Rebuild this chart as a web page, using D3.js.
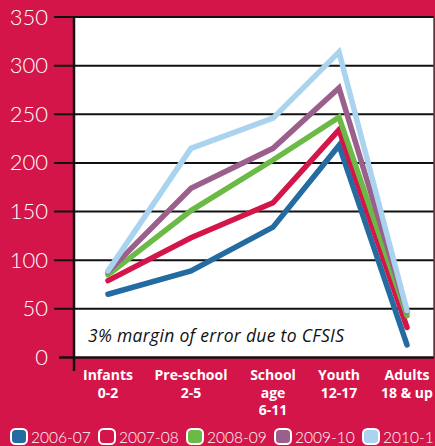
<!DOCTYPE html>
<html><head><meta charset="utf-8">
<script src="https://cdn.jsdelivr.net/npm/d3@7"></script>
<style>body{margin:0;background:#D4154A;}svg{display:block;}</style>
</head><body>
<script>
const categories = [["Infants","0-2"],["Pre-school","2-5"],["School","age","6-11"],["Youth","12-17"],["Adults","18 & up"]];
const seriesNames = ["2006-07","2007-08","2008-09","2009-10","2010-11"];
const s0607 = [65, 89, 134, 218, 13];
const s0708 = [79, 123, 159, 234, 31];
const s0809 = [85, 151, 203, 247, 43];
const s0910 = [88, 174, 215, 277, 47];
const s1011 = [89, 215, 246, 314, 48];
const yTicks = [0,50,100,150,200,250,300,350];
const note = "3% margin of error due to CFSIS";

const colors = ["#236BA0","#D4154A","#6BBA45","#9B5F8C","#A9D3EE"];
const series = [s0607,s0708,s0809,s0910,s1011];
const W=435,H=446;
const svg=d3.select("body").append("svg").attr("width",W).attr("height",H);
svg.append("rect").attr("width",W).attr("height",H).attr("fill","#D4154A");
const L=74,R=434,T=17,B=357.5;
const y=d3.scaleLinear().domain([0,350]).range([B,T]);
const x=d3.scaleLinear().domain([0,1,2,3,4]).range([L+34,L+117,L+199,L+265,L+333]);
svg.append("rect").attr("x",L).attr("y",T).attr("width",R-L).attr("height",B-T).attr("fill","#fff");
// gridlines
svg.append("g").selectAll("line").data(yTicks).join("line")
 .attr("x1",d=>d===0?59:54).attr("x2",R).attr("y1",d=>y(d)).attr("y2",d=>y(d))
 .attr("stroke","#111").attr("stroke-width",d=>d===0?2.5:2);
svg.append("line").attr("x1",R).attr("x2",R).attr("y1",T).attr("y2",B).attr("stroke","#444").attr("stroke-width",1.5);
svg.append("line").attr("x1",L).attr("x2",L).attr("y1",T).attr("y2",371).attr("stroke","#111").attr("stroke-width",2.5);
svg.append("g").selectAll("text").data(yTicks).join("text")
 .attr("x",48).attr("y",d=>y(d)+7.5).attr("text-anchor","end")
 .attr("fill","#fff").attr("font-family","Lato, 'Open Sans', sans-serif").attr("font-weight",300).attr("font-size",22)
 .text(d=>d);
// note
svg.append("text").attr("x",88).attr("y",342).attr("font-family","'Open Sans', sans-serif").attr("font-style","italic")
 .attr("font-size",17.5).attr("fill","#111").attr("textLength",256).text(note);
// lines
const line=d3.line().x((d,i)=>x(i)).y(d=>y(d));
svg.append("g").selectAll("path").data(series).join("path")
 .attr("d",line).attr("fill","none").attr("stroke",(d,i)=>colors[i]).attr("stroke-width",5.5)
 .attr("stroke-linecap","round").attr("stroke-linejoin","miter");
// x labels
const xl=svg.append("g").selectAll("text").data(categories).join("text")
 .attr("x",(d,i)=>x(i)).attr("y",380).attr("text-anchor","middle").attr("fill","#fff")
 .attr("font-family","'Open Sans', sans-serif").attr("font-weight",700).attr("font-size",14);
xl.selectAll("tspan").data(d=>d).join("tspan").attr("x",function(){return this.parentNode.getAttribute("x");})
 .attr("dy",(d,i)=>i===0?0:17.5).text(d=>d);
// legend
const lg=svg.append("g").selectAll("g").data(seriesNames).join("g").attr("transform",(d,i)=>`translate(${11+i*88},429)`);
lg.append("rect").attr("width",16).attr("height",15).attr("rx",4.5).attr("fill",(d,i)=>colors[i]).attr("stroke","#fff").attr("stroke-width",2);
lg.append("text").attr("x",20).attr("y",14).attr("fill","#fff").attr("font-family","Lato, 'Open Sans', sans-serif")
 .attr("font-weight",300).attr("font-size",15.5).text(d=>d);
</script>
</body></html>
